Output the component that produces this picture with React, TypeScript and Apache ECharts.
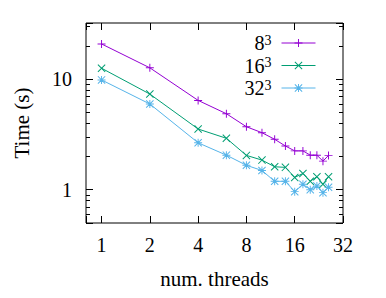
import { useEffect, useRef } from 'react';
import * as echarts from 'echarts';

// Run time versus number of threads, for three grid sizes (log-log).
const threads = [1, 2, 4, 6, 8, 10, 12, 14, 16, 18, 20, 22, 24, 26];
const time8 = [20.7, 12.6, 6.4, 4.85, 3.7, 3.27, 2.85, 2.48, 2.24, 2.24, 2.05, 2.05, 1.81, 2.04];
const time16 = [12.5, 7.3, 3.53, 2.91, 2.04, 1.85, 1.61, 1.59, 1.29, 1.4, 1.19, 1.31, 1.12, 1.31];
const time32 = [9.8, 5.94, 2.65, 2.05, 1.66, 1.49, 1.19, 1.19, 0.96, 1.12, 1.0, 1.08, 0.94, 1.05];
const seriesNames = ['8^3', '16^3', '32^3'];
const seriesColors = ['#9400d3', '#009e73', '#56b4e9'];
const yMinorTicks = [0.6, 0.7, 0.8, 0.9, 2, 3, 4, 5, 6, 7, 8, 9, 20, 30];

const FONT = "'Liberation Serif', 'Times New Roman', serif";

// gnuplot-like point types drawn as filled outlines (10x10 box)
const PLUS = 'M4.4,0H5.6V4.4H10V5.6H5.6V10H4.4V5.6H0V4.4H4.4Z';
const A = 0.88;
const CROSS =
  `M${A},0L10,${10 - A}L${10 - A},10L0,${A}Z` +
  `M${10 - A},0L10,${A}L${A},10L0,${10 - A}Z`;
const STAR = PLUS + CROSS;
const symbols = ['path://' + PLUS, 'path://' + CROSS, 'path://' + STAR];

const isPower = (v: number, base: number) => {
  const e = Math.log(v) / Math.log(base);
  return Math.abs(e - Math.round(e)) < 1e-6;
};

export default function App() {
  const ref = useRef<HTMLDivElement>(null);

  useEffect(() => {
    document.body.style.margin = '0';
    const chart = echarts.init(ref.current!, null, { renderer: 'svg' });

    const dataSets = [time8, time16, time32];
    const lineSeries = dataSets.map((vals, i) => ({
      type: 'line',
      name: seriesNames[i],
      xAxisIndex: 0,
      yAxisIndex: 0,
      data: threads.map((t, j) => [t, vals[j]]),
      symbol: symbols[i],
      symbolSize: 8,
      showAllSymbol: true,
      color: seriesColors[i],
      lineStyle: { width: 1, color: seriesColors[i] },
      itemStyle: { color: seriesColors[i] },
      z: 3,
    }));

    const axisBase = {
      splitLine: { show: false },
      axisLine: { show: false },
    };

    chart.setOption({
      animation: false,
      grid: {
        left: 86,
        top: 23,
        right: 43,
        bottom: 75,
        show: true,
        borderColor: '#000',
        borderWidth: 1,
        backgroundColor: 'transparent',
      },
      legend: {
        data: seriesNames,
        orient: 'vertical',
        align: 'right',
        right: 70,
        top: 33,
        padding: 0,
        itemGap: 2.5,
        itemWidth: 34,
        itemHeight: 10,
        selectedMode: false,
        lineStyle: { width: 1 },
        itemStyle: { borderWidth: 0 },
        formatter: (name: string) => {
          const [base, exp] = name.split('^');
          return `{n|${base}}{s|${exp}}`;
        },
        textStyle: {
          color: '#000',
          fontFamily: FONT,
          rich: {
            n: { fontSize: 20, lineHeight: 20, fontFamily: FONT, color: '#000' },
            s: {
              fontSize: 14,
              lineHeight: 9,
              verticalAlign: 'top',
              fontFamily: FONT,
              color: '#000',
              padding: [0, 5, 0, 0],
            },
          },
        },
      },
      xAxis: [
        {
          ...axisBase,
          type: 'log',
          logBase: 2,
          min: 0.8,
          max: 32,
          position: 'bottom',
          name: 'num. threads',
          nameLocation: 'middle',
          nameGap: 45,
          nameTextStyle: { fontFamily: FONT, fontSize: 21, color: '#000' },
          axisTick: { inside: true, length: 7, lineStyle: { color: '#000', width: 1 } },
          axisLabel: {
            margin: 12,
            fontFamily: FONT,
            fontSize: 20,
            color: '#000',
            formatter: (v: number) => (isPower(v, 2) ? String(Math.round(v)) : ''),
          },
        },
        {
          ...axisBase,
          type: 'log',
          logBase: 2,
          min: 0.8,
          max: 32,
          position: 'top',
          axisTick: { inside: true, length: 7, lineStyle: { color: '#000', width: 1 } },
          axisLabel: { show: false },
        },
      ],
      yAxis: [
        {
          ...axisBase,
          type: 'log',
          logBase: 10,
          min: 0.5,
          max: 32,
          position: 'left',
          name: 'Time (s)',
          nameLocation: 'middle',
          nameGap: 54,
          nameTextStyle: { fontFamily: FONT, fontSize: 21, color: '#000' },
          axisTick: { inside: true, length: 7, lineStyle: { color: '#000', width: 1 } },
          axisLabel: {
            margin: 14,
            fontFamily: FONT,
            fontSize: 20,
            color: '#000',
            formatter: (v: number) => (isPower(v, 10) ? String(Math.round(v)) : ''),
          },
        },
        {
          ...axisBase,
          type: 'log',
          logBase: 10,
          min: 0.5,
          max: 32,
          position: 'right',
          axisTick: { inside: true, length: 7, lineStyle: { color: '#000', width: 1 } },
          axisLabel: { show: false },
        },
      ],
      series: [
        ...lineSeries,
        {
          // minor ticks on the left and right borders
          type: 'custom',
          name: 'minor-ticks',
          xAxisIndex: 0,
          yAxisIndex: 0,
          silent: true,
          clip: false,
          data: yMinorTicks.map((v) => [1, v]),
          encode: { x: 0, y: 1 },
          renderItem: (params: any, api: any) => {
            const pt = api.coord([api.value(0), api.value(1)]);
            const y = Math.round(pt[1]) + 0.5;
            const cs = params.coordSys;
            const stroke = { stroke: '#000', lineWidth: 1 };
            return {
              type: 'group',
              children: [
                { type: 'line', shape: { x1: cs.x, y1: y, x2: cs.x + 4, y2: y }, style: stroke },
                {
                  type: 'line',
                  shape: { x1: cs.x + cs.width - 4, y1: y, x2: cs.x + cs.width, y2: y },
                  style: stroke,
                },
              ],
            };
          },
          z: 2,
        },
      ],
    });

    return () => chart.dispose();
  }, []);

  return <div ref={ref} style={{ width: 386, height: 298 }} />;
}
